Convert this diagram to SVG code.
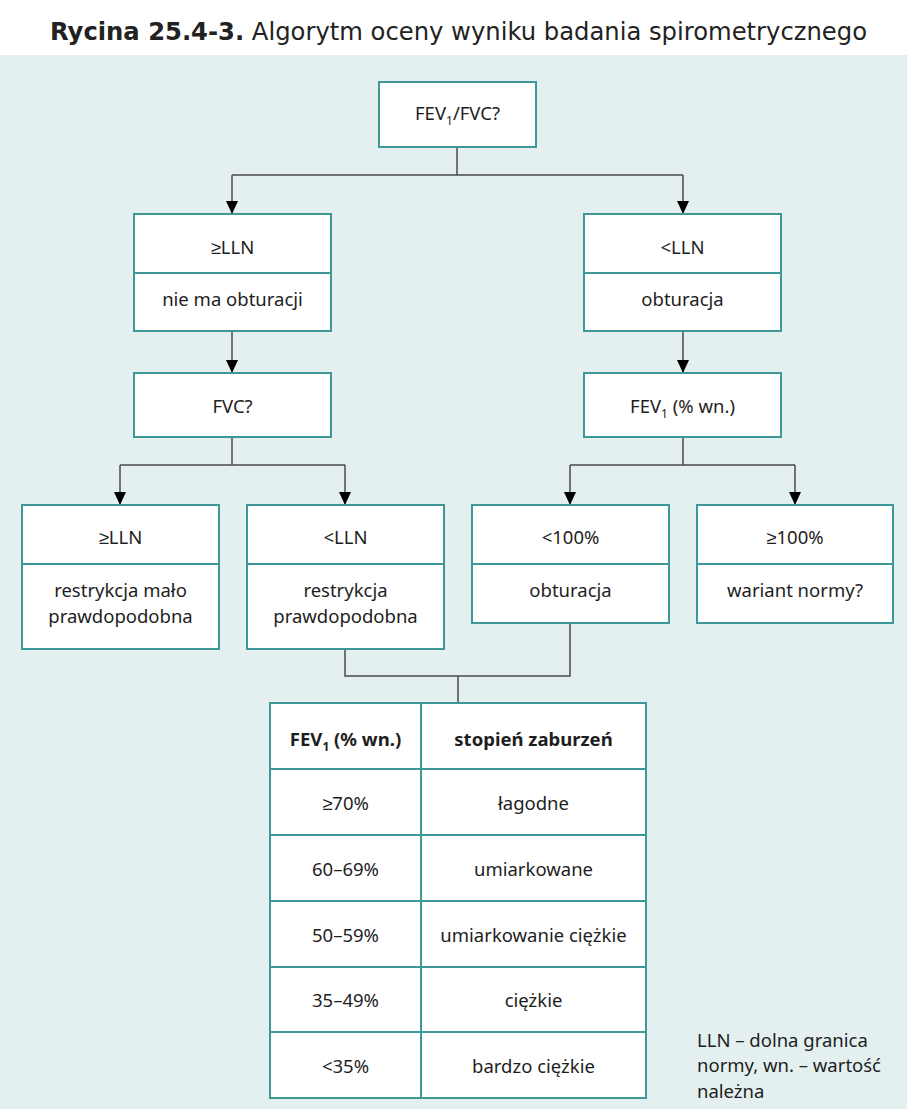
<svg xmlns="http://www.w3.org/2000/svg" width="907" height="1109" viewBox="0 0 907 1109">
<style>
.bg{fill:#e4f0f0}
.box{fill:#ffffff;stroke:#3e9898;stroke-width:2}
.div{stroke:#3e9898;stroke-width:2;fill:none}
.t{font-family:"Noto Sans","Liberation Sans",sans-serif;font-size:18.5px;fill:#1e1e1e;text-anchor:middle}
.b{font-weight:bold}
.sub{font-size:12px;fill:#1e1e1e}
.fn{font-family:"Noto Sans","Liberation Sans",sans-serif;font-size:18.5px;fill:#1e1e1e}
.title{font-family:"DejaVu Sans","Liberation Sans",sans-serif;font-size:24px;fill:#222}
.c{stroke:#4a4a4a;stroke-width:1.5;fill:none}
</style>
<defs>
<marker id="arr" markerWidth="13" markerHeight="12" refX="13" refY="6" orient="auto" markerUnits="userSpaceOnUse" viewBox="0 0 13 12">
<path d="M0,0 L13,6 L0,12 Z" fill="#000"/>
</marker>
</defs>
<rect x="0" y="0" width="907" height="1109" fill="#ffffff"/>
<rect class="bg" x="0" y="55" width="907" height="1054"/>
<text class="title" x="50" y="40" textLength="817" lengthAdjust="spacingAndGlyphs"><tspan font-weight="bold">Rycina 25.4-3.</tspan> Algorytm oceny wyniku badania spirometrycznego</text>

<g id="connectors">
<path class="c" d="M457,147 V175 M232,175 H683"/>
<path class="c" d="M232,175 V214" marker-end="url(#arr)"/>
<path class="c" d="M683,175 V214" marker-end="url(#arr)"/>
<path class="c" d="M232,331 V373" marker-end="url(#arr)"/>
<path class="c" d="M683,331 V373" marker-end="url(#arr)"/>
<path class="c" d="M232,437 V465 M120,465 H345"/>
<path class="c" d="M120,465 V505" marker-end="url(#arr)"/>
<path class="c" d="M345,465 V505" marker-end="url(#arr)"/>
<path class="c" d="M683,437 V465 M570,465 H795"/>
<path class="c" d="M570,465 V505" marker-end="url(#arr)"/>
<path class="c" d="M795,465 V505" marker-end="url(#arr)"/>
<path class="c" d="M345,649 V676 H570 V623 M458,676 V703"/>
</g>

<g id="n-fev1fvc">
<rect class="box" x="379" y="82" width="157" height="65"/>
<text class="t" x="457.5" y="120">FEV<tspan class="sub" dy="5">1</tspan><tspan dy="-5">/FVC?</tspan></text>
</g>

<g id="n-ge-lln">
<rect class="box" x="134" y="214" width="197" height="117"/>
<line class="div" x1="134" y1="273" x2="331" y2="273"/>
<text class="t" x="232.5" y="254">≥LLN</text>
<text class="t" x="232.5" y="306">nie ma obturacji</text>
</g>

<g id="n-lt-lln">
<rect class="box" x="584" y="214" width="197" height="117"/>
<line class="div" x1="584" y1="273" x2="781" y2="273"/>
<text class="t" x="682.5" y="254">&lt;LLN</text>
<text class="t" x="682.5" y="306">obturacja</text>
</g>

<g id="n-fvc">
<rect class="box" x="134" y="373" width="197" height="64"/>
<text class="t" x="232.5" y="413">FVC?</text>
</g>

<g id="n-fev1">
<rect class="box" x="584" y="373" width="197" height="64"/>
<text class="t" x="682.5" y="413">FEV<tspan class="sub" dy="5">1</tspan><tspan dy="-5"> (% wn.)</tspan></text>
</g>

<g id="n-r1">
<rect class="box" x="22" y="505" width="197" height="144"/>
<line class="div" x1="22" y1="564" x2="219" y2="564"/>
<text class="t" x="120.5" y="544">≥LLN</text>
<text class="t" x="120.5" y="597">restrykcja mało</text>
<text class="t" x="120.5" y="623">prawdopodobna</text>
</g>

<g id="n-r2">
<rect class="box" x="247" y="505" width="197" height="144"/>
<line class="div" x1="247" y1="564" x2="444" y2="564"/>
<text class="t" x="345.5" y="544">&lt;LLN</text>
<text class="t" x="345.5" y="597">restrykcja</text>
<text class="t" x="345.5" y="623">prawdopodobna</text>
</g>

<g id="n-o1">
<rect class="box" x="472" y="505" width="197" height="118"/>
<line class="div" x1="472" y1="564" x2="669" y2="564"/>
<text class="t" x="570.5" y="544">&lt;100%</text>
<text class="t" x="570.5" y="597">obturacja</text>
</g>

<g id="n-o2">
<rect class="box" x="697" y="505" width="196" height="118"/>
<line class="div" x1="697" y1="564" x2="893" y2="564"/>
<text class="t" x="795" y="544">≥100%</text>
<text class="t" x="795" y="597">wariant normy?</text>
</g>

<g id="n-table">
<rect class="box" x="270" y="703" width="376" height="395"/>
<path class="div" d="M421,703 V1098 M270,769 H646 M270,835 H646 M270,901 H646 M270,967 H646 M270,1032 H646"/>
<text class="t b" x="345.5" y="746">FEV<tspan class="sub" dy="5">1</tspan><tspan dy="-5"> (% wn.)</tspan></text>
<text class="t b" x="533.5" y="746">stopień zaburzeń</text>
<text class="t" x="345.5" y="810">≥70%</text>
<text class="t" x="533.5" y="810">łagodne</text>
<text class="t" x="345.5" y="876">60–69%</text>
<text class="t" x="533.5" y="876">umiarkowane</text>
<text class="t" x="345.5" y="942">50–59%</text>
<text class="t" x="533.5" y="942">umiarkowanie ciężkie</text>
<text class="t" x="345.5" y="1007">35–49%</text>
<text class="t" x="533.5" y="1007">ciężkie</text>
<text class="t" x="345.5" y="1073">&lt;35%</text>
<text class="t" x="533.5" y="1073">bardzo ciężkie</text>
</g>

<g id="footnote">
<text class="fn" x="697" y="1047">LLN – dolna granica</text>
<text class="fn" x="697" y="1072">normy, wn. – wartość</text>
<text class="fn" x="697" y="1098">należna</text>
</g>
</svg>
